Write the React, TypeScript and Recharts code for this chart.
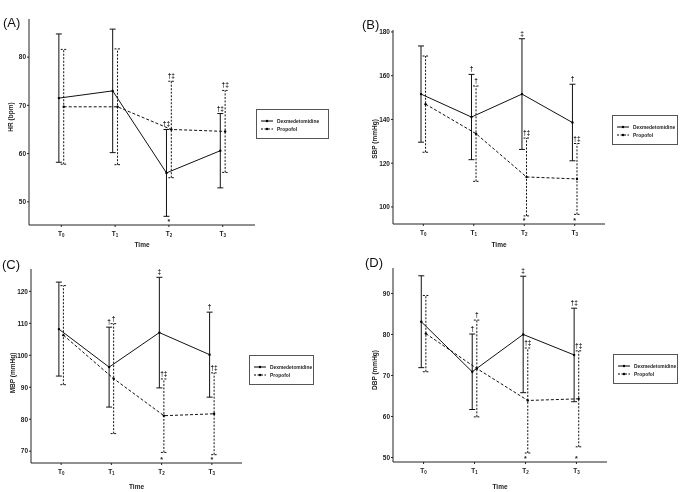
import { ComposedChart, Line, Scatter, XAxis, YAxis, ErrorBar, Legend } from "recharts";

const timePoints = ["T0", "T1", "T2", "T3"];
const seriesNames = ["Dexmedetomidine", "Propofol"];

// (A) heart rate
const hrDexMean = [71.5, 73.0, 56.0, 60.6];
const hrDexSd = [13.3, 12.8, 9.0, 7.7];
const hrPropMean = [69.7, 69.7, 65.0, 64.6];
const hrPropSd = [11.9, 12.0, 10.0, 8.5];
const hrDexMarks = ["", "", "†‡", "†‡"];
const hrPropMarks = ["", "", "†‡", "†‡"];
const hrStars = ["", "", "*", ""];

// (B) systolic BP
const sbpDexMean = [151.6, 141.1, 151.6, 138.6];
const sbpDexSd = [22.0, 19.5, 25.3, 17.5];
const sbpPropMean = [147.0, 133.5, 113.7, 112.8];
const sbpPropSd = [22.0, 21.8, 17.8, 16.2];
const sbpDexMarks = ["", "†", "‡", "†"];
const sbpPropMarks = ["", "†", "†‡", "†‡"];
const sbpStars = ["", "", "*", "*"];

// (C) mean BP
const mbpDexMean = [108.2, 96.3, 107.1, 100.2];
const mbpDexSd = [14.7, 12.5, 17.3, 13.3];
const mbpPropMean = [106.3, 92.7, 81.1, 81.7];
const mbpPropSd = [15.5, 17.2, 11.5, 12.8];
const mbpDexMarks = ["", "†", "‡", "†"];
const mbpPropMarks = ["", "†", "†‡", "†‡"];
const mbpStars = ["", "", "*", "*"];

// (D) diastolic BP
const dbpDexMean = [83.1, 70.9, 80.0, 75.0];
const dbpDexSd = [11.2, 9.2, 14.2, 11.4];
const dbpPropMean = [80.2, 71.7, 63.9, 64.3];
const dbpPropSd = [9.3, 11.8, 12.8, 11.7];
const dbpDexMarks = ["", "†", "‡", "†‡"];
const dbpPropMarks = ["", "†", "†‡", "†‡"];
const dbpStars = ["", "", "*", "*"];

const FONT = "'Liberation Sans', Arial, sans-serif";
const SHIFT = 0.045;

const panels = [
  {
    letter: "(A)", yLabel: "HR (bpm)",
    dexMean: hrDexMean, dexSd: hrDexSd, propMean: hrPropMean, propSd: hrPropSd,
    dexMarks: hrDexMarks, propMarks: hrPropMarks, stars: hrStars,
    yDomain: [45.2, 87.9], yTicks: [50, 60, 70, 80],
    box: { left: 0, top: 0, width: 340, height: 250 }, axisW: 29, mTop: 19, mRight: 85, xAxisH: 25,
    labelShift: -5, legend: { left: 256, top: 109, width: 73 }, letterPos: { left: 3, top: 15 },
  },
  {
    letter: "(B)", yLabel: "SBP (mmHg)",
    dexMean: sbpDexMean, dexSd: sbpDexSd, propMean: sbpPropMean, propSd: sbpPropSd,
    dexMarks: sbpDexMarks, propMarks: sbpPropMarks, stars: sbpStars,
    yDomain: [92.2, 180.9], yTicks: [100, 120, 140, 160, 180],
    box: { left: 345, top: 0, width: 340, height: 250 }, axisW: 48, mTop: 30, mRight: 80, xAxisH: 26,
    labelShift: 12, legend: { left: 267, top: 115, width: 66 }, letterPos: { left: 362, top: 17 },
  },
  {
    letter: "(C)", yLabel: "MBP (mmHg)",
    dexMean: mbpDexMean, dexSd: mbpDexSd, propMean: mbpPropMean, propSd: mbpPropSd,
    dexMarks: mbpDexMarks, propMarks: mbpPropMarks, stars: mbpStars,
    yDomain: [66.3, 127], yTicks: [70, 80, 90, 100, 110, 120],
    box: { left: 0, top: 250, width: 340, height: 242 }, axisW: 31, mTop: 19, mRight: 98, xAxisH: 29,
    labelShift: 7, legend: { left: 249, top: 105, width: 65 }, letterPos: { left: 2, top: 257 },
  },
  {
    letter: "(D)", yLabel: "DBP (mmHg)",
    dexMean: dbpDexMean, dexSd: dbpDexSd, propMean: dbpPropMean, propSd: dbpPropSd,
    dexMarks: dbpDexMarks, propMarks: dbpPropMarks, stars: dbpStars,
    yDomain: [48.9, 96.2], yTicks: [50, 60, 70, 80, 90],
    box: { left: 345, top: 250, width: 340, height: 242 }, axisW: 48, mTop: 18, mRight: 78, xAxisH: 30,
    labelShift: 5, legend: { left: 268, top: 104, width: 65 }, letterPos: { left: 365, top: 255 },
  },
];

const TimeTick = (props: any) => {
  const { x, y, payload } = props;
  const label = timePoints[payload.value] ?? "";
  return (
    <text x={x} y={y} dy={6.5} textAnchor="middle" fontSize={6.5} fontWeight="bold" fill="#222" fontFamily={FONT}>
      {label.slice(0, 1)}
      <tspan fontSize={4.5} dy={1.5}>{label.slice(1)}</tspan>
    </text>
  );
};

const MarkShape = (props: any) => {
  const { cx, cy, payload } = props;
  if (!payload || !payload.mark) return <g />;
  return (
    <text x={cx} y={cy - 3} textAnchor="middle" fontSize={6.5} fontWeight="bold"
      style={{ fill: "#222", stroke: "none" }} fontFamily={FONT}>
      {payload.mark}
    </text>
  );
};

const StarShape = (props: any) => {
  const { cx, cy, payload } = props;
  if (!payload || !payload.mark) return <g />;
  return (
    <text x={cx} y={cy - 1} textAnchor="middle" fontSize={7} fontWeight="bold"
      style={{ fill: "#222", stroke: "none" }} fontFamily={FONT}>
      {payload.mark}
    </text>
  );
};

const LegendBox = (props: any) => {
  const items = (props.payload || []).filter((p: any) => seriesNames.includes(p.value));
  return (
    <div style={{ border: "1px solid #555", background: "#fff", padding: "7px 2px 5px 4px", boxSizing: "border-box",
      fontFamily: FONT, fontSize: 4.9, fontWeight: "bold", color: "#222", textAlign: "left" }}>
      {items.map((item: any) => (
        <div key={item.value} style={{ display: "flex", alignItems: "center", height: 8 }}>
          <svg width={12} height={4} style={{ flexShrink: 0 }}>
            <line x1={0} y1={2} x2={12} y2={2} stroke="#000" strokeWidth={1}
              strokeDasharray={item.value === "Propofol" ? "2 1.5" : undefined} />
            <circle cx={6} cy={2} r={1.2} fill="#000" />
          </svg>
          <span style={{ marginLeft: 4, whiteSpace: "nowrap" }}>{item.value}</span>
        </div>
      ))}
    </div>
  );
};

function Panel({ p }: { p: any }) {
  const dexRows = timePoints.map((_, i) => ({ x: i - SHIFT, y: p.dexMean[i], err: p.dexSd[i] }));
  const propRows = timePoints.map((_, i) => ({ x: i + SHIFT, y: p.propMean[i], err: p.propSd[i] }));
  const markRows = [
    ...timePoints.map((_, i) => ({ x: i - SHIFT, y: p.dexMean[i] + p.dexSd[i], mark: p.dexMarks[i] })),
    ...timePoints.map((_, i) => ({ x: i + SHIFT, y: p.propMean[i] + p.propSd[i], mark: p.propMarks[i] })),
  ];
  const starRows = timePoints.map((_, i) => ({ x: i, y: p.yDomain[0], mark: p.stars[i] }));

  return (
    <div style={{ position: "absolute", left: p.box.left, top: p.box.top }}>
      <ComposedChart width={p.box.width} height={p.box.height}
        margin={{ top: p.mTop, right: p.mRight, bottom: 0, left: 0 }}>
        <XAxis type="number" dataKey="x" domain={[-0.6, 3.6]} ticks={[0, 1, 2, 3]} interval={0}
          allowDataOverflow height={p.xAxisH} tickSize={2} tickMargin={2} tick={<TimeTick />}
          stroke="#222"
          label={{ value: "Time", position: "insideBottom", offset: 3, fontSize: 6.5, fontWeight: "bold", fill: "#222", fontFamily: FONT }} />
        <YAxis type="number" domain={p.yDomain} ticks={p.yTicks} allowDataOverflow width={p.axisW}
          tickSize={2} tickMargin={1} stroke="#222"
          tick={{ fontSize: 6.5, fontWeight: "bold", fill: "#222", fontFamily: FONT }}
          label={{ value: p.yLabel, angle: -90, position: "insideLeft", offset: p.axisW - 18, dy: p.labelShift,
            style: { textAnchor: "middle" }, fontSize: 6.5, fontWeight: "bold", fill: "#222", fontFamily: FONT }} />
        <Legend layout="horizontal" verticalAlign="middle" align="center" content={<LegendBox />}
          wrapperStyle={{ left: p.legend.left, top: p.legend.top, width: p.legend.width, height: "auto" }} />
        <Line data={dexRows} dataKey="y" name={seriesNames[0]} stroke="#111" strokeWidth={1}
          dot={{ r: 1.2, fill: "#000", stroke: "none" }} activeDot={false} isAnimationActive={false}>
          <ErrorBar dataKey="err" direction="y" width={3} stroke="#111" strokeWidth={1} />
        </Line>
        <Line data={propRows} dataKey="y" name={seriesNames[1]} stroke="#111" strokeWidth={1}
          strokeDasharray="3 2" dot={{ r: 1.2, fill: "#000", stroke: "none", strokeDasharray: "" }}
          activeDot={false} isAnimationActive={false}>
          <ErrorBar dataKey="err" direction="y" width={3} stroke="#111" strokeWidth={1} strokeDasharray="2 1.5" />
        </Line>
        <Scatter data={markRows} dataKey="y" legendType="none" shape={<MarkShape />} isAnimationActive={false} />
        <Scatter data={starRows} dataKey="y" legendType="none" shape={<StarShape />} isAnimationActive={false} />
      </ComposedChart>
      <div style={{ position: "absolute", left: p.letterPos.left - p.box.left, top: p.letterPos.top - p.box.top,
        fontFamily: FONT, fontSize: 13, color: "#111" }}>
        {p.letter}
      </div>
    </div>
  );
}

export default function App() {
  return (
    <div style={{ position: "absolute", left: 0, top: 0, width: 685, height: 492, background: "#fff", filter: "grayscale(1)" }}>
      {panels.map((p) => (
        <Panel key={p.letter} p={p} />
      ))}
    </div>
  );
}
